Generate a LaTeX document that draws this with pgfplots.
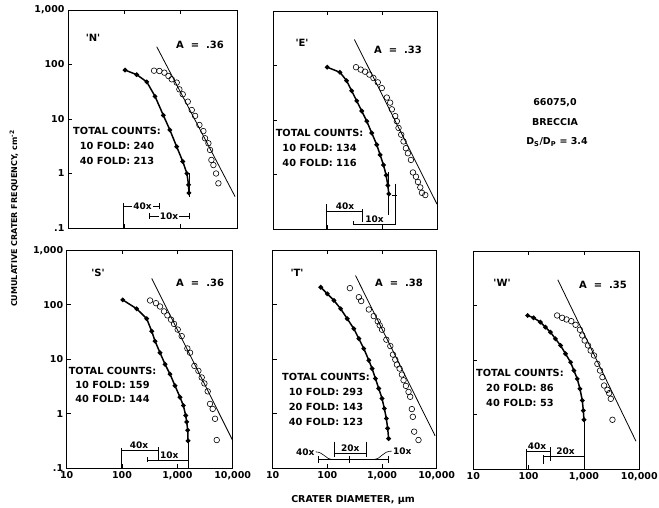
\documentclass[border=0pt]{standalone}
\usepackage{fontspec}
\setmainfont{DejaVu Sans}
\usepackage{pgfplots}
\pgfplotsset{compat=1.18}
\pgfplotsset{
  every axis/.append style={
    xmode=log, ymode=log, xmin=10, xmax=10000, ymin=0.1, ymax=1000,
    scale only axis, height=218pt, anchor=south west,
    xtick={10,100,1000,10000}, ytick={0.1,1,10,100,1000},
    xminorticks=false, yminorticks=false,
    tick align=inside, major tick length=4pt,
    xtick pos=both, ytick pos=left,
    axis line style={line width=0.9pt},
    every tick/.style={black, line width=0.8pt},
    clip=false,
    tick label style={font=\bfseries\fontsize{9.5}{10}\selectfont},
  },
}
\tikzset{
  mydots/.style={black, line width=1.5pt, mark=*, mark size=1.5pt, mark options={solid}},
  mycirc/.style={black, only marks, mark=o, mark size=2.8pt, mark options={line width=0.6pt}},
  myfit/.style={black, line width=0.8pt},
  mylab/.style={font=\bfseries\fontsize{10}{12}\selectfont},
  mycnt/.style={align=center, font=\bfseries\fontsize{9.8}{15}\selectfont},
  mybar/.style={font=\bfseries\fontsize{9}{10}\selectfont, inner sep=1pt},
  mybr/.style={black, line width=0.6pt},
}
\begin{document}
\begin{tikzpicture}
\useasboundingbox (0pt,0pt) rectangle (659pt,508pt);
% ---------------- N ----------------
\begin{axis}[at={(68pt,280pt)}, width=169pt, xticklabels={}, yticklabels={.1,1,10,100,{1,000}}]
\addplot[mydots] coordinates {(103,79) (166,65) (250,48) (351,26) (492,11.7) (643,6.3) (850,3.1) (1090,1.66) (1290,1.0) (1380,0.62) (1400,0.44)};
\addplot[mycirc] coordinates {(337,77) (419,76) (514,70.8) (606,61.5) (694,53.5) (851,46.5) (948,35) (1088,28.4) (1336,20.8) (1573,14.6) (1803,11.4) (2150,7.76) (2530,6.0) (2710,4.43) (3105,3.58) (3325,2.70) (3510,1.77) (3810,1.43) (4250,1.0) (4670,0.66)};
\addplot[myfit] coordinates {(376,212) (9250,0.376)};
\draw[mybr] (axis cs:1400,1.0) -- (axis cs:1400,0.37);
\node[mylab] at (rel axis cs:0.148,0.872) {\textquotesingle N\textquotesingle};
\node[mylab] at (rel axis cs:0.781,0.839) {A\hspace{0.7em}=\hspace{0.7em}.36};
\node[mycnt] at (rel axis cs:0.29,0.376) {TOTAL COUNTS:\\10 FOLD: 240\\40 FOLD: 213};
\draw[mybr] (axis cs:95,0.1) -- (axis cs:95,0.29);
\draw[mybr] (axis cs:95,0.254) -- (axis cs:415,0.254);
\draw[mybr] (axis cs:415,0.29) -- (axis cs:415,0.22);
\node[mybar, fill=white] at (axis cs:210,0.254) {40x};
\draw[mybr] (axis cs:278,0.19) -- (axis cs:278,0.145);
\draw[mybr] (axis cs:278,0.166) -- (axis cs:1430,0.166);
\draw[mybr] (axis cs:1430,0.19) -- (axis cs:1430,0.145);
\node[mybar, fill=white] at (axis cs:622,0.166) {10x};
\end{axis}
% ---------------- E ----------------
\begin{axis}[at={(273pt,279pt)}, width=164pt, xticklabels={}, yticklabels={}]
\addplot[mydots] coordinates {(98,93) (168,75) (222,52.6) (275,34.3) (340,22.4) (420,14.6) (519,9.5) (640,5.78) (791,3.51) (912,2.29) (1050,1.49) (1175,0.97) (1260,0.63) (1315,0.44)};
\addplot[mycirc] coordinates {(330,93) (402,84) (483,77) (580,68) (687,59) (826,49) (978,38.5) (1208,25.8) (1390,20.8) (1493,15.7) (1719,11.8) (1844,9.5) (1978,7.15) (2214,5.38) (2443,4.04) (2697,3.04) (2935,2.45) (3335,1.85) (3630,1.09) (4120,0.91) (4485,0.73) (4945,0.58) (5305,0.46) (6110,0.42)};
\addplot[myfit] coordinates {(308,300) (10000,0.286)};
\draw[mybr] (axis cs:1283,1.1) -- (axis cs:1283,0.18);
\draw[mybr] (axis cs:1725,0.68) -- (axis cs:1725,0.116);
\draw[mybr] (axis cs:1500,0.42) -- (axis cs:1850,0.42);
\node[mylab] at (rel axis cs:0.177,0.853) {\textquotesingle E\textquotesingle};
\node[mylab] at (rel axis cs:0.762,0.821) {A\hspace{0.7em}=\hspace{0.7em}.33};
\node[mycnt] at (rel axis cs:0.284,0.373) {TOTAL COUNTS:\\10 FOLD: 134\\40 FOLD: 116};
\draw[mybr] (axis cs:95.5,0.1) -- (axis cs:95.5,0.288);
\draw[mybr] (axis cs:95.5,0.209) -- (axis cs:422,0.209);
\draw[mybr] (axis cs:422,0.232) -- (axis cs:422,0.137);
\node[mybar, anchor=south] at (axis cs:208,0.212) {40x};
\draw[mybr] (axis cs:295,0.14) -- (axis cs:295,0.116);
\draw[mybr] (axis cs:295,0.122) -- (axis cs:1725,0.122);
\node[mybar, anchor=south] at (axis cs:720,0.124) {10x};
\end{axis}
% ---------------- S ----------------
\begin{axis}[at={(66.7pt,39.7pt)}, width=166pt, xticklabels={10,100,{1,000},{10,000}}, yticklabels={.1,1,10,100,{1,000}}]
\addplot[mydots] coordinates {(103,123) (184,84.5) (279,55.6) (344,32.7) (395,21.5) (486,13.2) (599,8.1) (737,5.34) (907,3.27) (1117,2.01) (1283,1.42) (1415,0.93) (1475,0.71) (1538,0.50) (1560,0.32)};
\addplot[mycirc] coordinates {(321,120) (411,107) (486,93) (574,75.7) (660,64) (769,53.3) (871,44.5) (1015,35.1) (1198,26.6) (1516,15.8) (1694,13.2) (2029,7.57) (2397,6.14) (2755,4.64) (3077,3.61) (3533,2.58) (3892,1.52) (4351,1.23) (4795,0.81) (5143,0.33)};
\addplot[myfit] coordinates {(344,305) (10000,0.323)};
\draw[mybr] (axis cs:1560,0.33) -- (axis cs:1560,0.1);
\node[mylab] at (rel axis cs:0.189,0.896) {\textquotesingle S\textquotesingle};
\node[mylab] at (rel axis cs:0.804,0.85) {A\hspace{0.7em}=\hspace{0.7em}.36};
\node[mycnt, font=\bfseries\fontsize{9.8}{14}\selectfont] at (rel axis cs:0.276,0.384) {TOTAL COUNTS:\\10 FOLD: 159\\40 FOLD: 144};
\draw[mybr] (axis cs:99,0.1) -- (axis cs:99,0.24);
\draw[mybr] (axis cs:99,0.215) -- (axis cs:453,0.215);
\draw[mybr] (axis cs:453,0.248) -- (axis cs:453,0.142);
\node[mybar, anchor=south] at (axis cs:203,0.218) {40x};
\draw[mybr] (axis cs:292,0.16) -- (axis cs:292,0.128);
\draw[mybr] (axis cs:292,0.142) -- (axis cs:1560,0.142);
\node[mybar, anchor=south] at (axis cs:712,0.145) {10x};
\end{axis}
% ---------------- T ----------------
\begin{axis}[at={(272.7pt,39.7pt)}, width=164pt, xticklabels={10,100,{1,000},{10,000}}, yticklabels={}]
\addplot[mydots] coordinates {(75.7,210) (100,159) (132,120) (175,84.5) (231,55.5) (305,36.4) (377,23.9) (464,15.7) (573,9.6) (658,6.75) (757,4.43) (870,2.91) (1000,1.91) (1102,1.25) (1199,0.82) (1267,0.54) (1321,0.35)};
\addplot[mycirc] coordinates {(258,202) (377,138) (415,117) (573,82) (705,62) (834,49.6) (907,41.9) (1000,34.9) (1199,22.9) (1418,17.5) (1585,12.2) (1746,9.86) (1875,7.98) (2096,6.75) (2310,5.24) (2477,4.13) (2730,3.25) (3053,2.52) (3273,2.05) (3509,1.22) (3660,0.88) (3872,0.47) (4645,0.33)};
\addplot[myfit] coordinates {(327,344) (9330,0.396)};
\node[mylab] at (rel axis cs:0.148,0.896) {\textquotesingle T\textquotesingle};
\node[mylab] at (rel axis cs:0.77,0.85) {A\hspace{0.7em}=\hspace{0.7em}.38};
\node[mycnt] at (rel axis cs:0.325,0.318) {TOTAL COUNTS:\\10 FOLD: 293\\20 FOLD: 143\\40 FOLD: 123};
\draw[mybr] (axis cs:69.5,0.144) -- (axis cs:1303,0.144);
\draw[mybr] (axis cs:69.5,0.165) -- (axis cs:69.5,0.125);
\draw[mybr] (axis cs:248,0.165) -- (axis cs:248,0.125);
\draw[mybr] (axis cs:1303,0.165) -- (axis cs:1303,0.125);
\draw[mybr] (axis cs:61,0.2) .. controls (axis cs:85,0.2) and (axis cs:95,0.144) .. (axis cs:123,0.144);
\node[mybar, anchor=east] at (axis cs:61,0.2) {40x};
\draw[mybr] (axis cs:132,0.31) -- (axis cs:132,0.163);
\draw[mybr] (axis cs:519,0.31) -- (axis cs:519,0.163);
\draw[mybr] (axis cs:132,0.19) -- (axis cs:519,0.19);
\node[mybar, anchor=south] at (axis cs:262,0.195) {20x};
\draw[mybr] (axis cs:705,0.144) .. controls (axis cs:950,0.144) and (axis cs:1000,0.207) .. (axis cs:1520,0.207);
\node[mybar, anchor=west] at (axis cs:1520,0.207) {10x};
\end{axis}
% ---------------- W ----------------
\begin{axis}[at={(473.3pt,39pt)}, width=166pt, xticklabels={10,100,{1,000},{10,000}}, yticklabels={}]
\addplot[mydots] coordinates {(96,65.6) (123,59.4) (163,49.5) (201,40) (248,32.4) (305,24.5) (377,18.5) (464,13.0) (573,9.1) (658,6.4) (757,4.5) (846,2.96) (933,1.81) (973,1.18) (1000,0.80)};
\addplot[mycirc] coordinates {(327,65.6) (403,59.4) (484,55.4) (589,51.6) (705,44.2) (846,35.8) (933,28.2) (1029,22.8) (1183,18.5) (1321,14.9) (1520,12.1) (1746,8.5) (1953,6.4) (2153,4.84) (2310,3.4) (2655,2.84) (2850,2.46) (3053,1.94) (3273,0.80)};
\addplot[myfit] coordinates {(337,296) (8690,0.324)};
\draw[mybr] (axis cs:1000,0.8) -- (axis cs:1000,0.1);
\node[mylab] at (rel axis cs:0.173,0.855) {\textquotesingle W\textquotesingle};
\node[mylab] at (rel axis cs:0.781,0.845) {A\hspace{0.7em}=\hspace{0.7em}.35};
\node[mycnt] at (rel axis cs:0.281,0.373) {TOTAL COUNTS:\\20 FOLD: 86\\40 FOLD: 53};
\draw[mybr] (axis cs:89.6,0.1) -- (axis cs:89.6,0.23);
\draw[mybr] (axis cs:89.6,0.212) -- (axis cs:248,0.212);
\draw[mybr] (axis cs:248,0.25) -- (axis cs:248,0.143);
\node[mybar, anchor=south] at (axis cs:142,0.215) {40x};
\draw[mybr] (axis cs:182,0.177) -- (axis cs:182,0.124);
\draw[mybr] (axis cs:182,0.169) -- (axis cs:1000,0.169);
\node[mybar, anchor=south] at (axis cs:464,0.172) {20x};
\end{axis}
% ---------------- labels ----------------
\node[font=\bfseries\fontsize{9.5}{12}\selectfont] at (555pt,405pt) {66075,0};
\node[font=\bfseries\fontsize{9.5}{12}\selectfont] at (555pt,386pt) {BRECCIA};
\node[font=\bfseries\fontsize{9.5}{12}\selectfont] at (557pt,366pt) {D\textsubscript{S}/D\textsubscript{P} = 3.4};
\node[rotate=90, font=\bfseries\fontsize{8}{10}\selectfont] at (14pt,289.5pt) {CUMULATIVE CRATER FREQUENCY, cm\textsuperscript{-2}};
\node[font=\bfseries\fontsize{9.5}{12}\selectfont] at (353pt,8pt) {CRATER DIAMETER, μm};
\end{tikzpicture}
\end{document}
